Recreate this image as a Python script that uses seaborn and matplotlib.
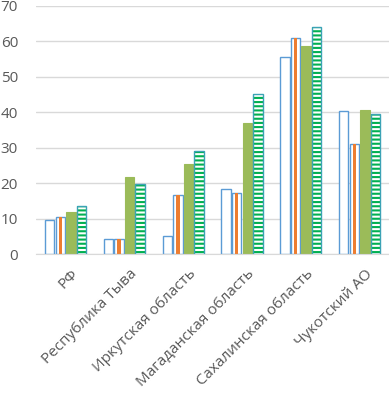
import numpy as np
import pandas as pd
import matplotlib
matplotlib.use("Agg")
import matplotlib.pyplot as plt
import matplotlib.transforms as mtransforms
import seaborn as sns
from matplotlib.patches import Rectangle

# données
regions = ["РФ", "Республика Тыва", "Иркутская область", "Магаданская область",
           "Сахалинская область", "Чукотский АО"]
series = ["s1", "s2", "s3", "s4"]
s1 = [9.6, 4.3, 5.0, 18.3, 55.5, 40.3]
s2 = [10.5, 4.4, 16.8, 17.3, 61.0, 31.0]
s3 = [11.9, 21.8, 25.5, 36.9, 58.6, 40.6]
s4 = [13.7, 19.8, 29.2, 45.1, 64.2, 39.5]

data = pd.DataFrame({
    "region": regions * 4,
    "serie": np.repeat(series, len(regions)),
    "value": s1 + s2 + s3 + s4,
})

sns.set_style("white")
plt.rcParams["font.family"] = ["Open Sans", "DejaVu Sans"]
plt.rcParams["hatch.linewidth"] = 1.5

blue = "#5B9BD5"
orange = "#ED7D31"
green = "#9BBB59"
stripe = "#00B050"

fig = plt.figure(figsize=(3.89, 3.99), dpi=100)
ax = fig.add_axes([0.093, 0.363, 0.907, 0.622])

sns.barplot(data=data, x="region", y="value", hue="serie", order=regions,
            hue_order=series, width=0.72, gap=0.1, palette=["white"] * 4,
            legend=False, ax=ax)

for i, cont in enumerate(ax.containers):
    for p in cont:
        if i == 0:
            p.set_facecolor("white")
            p.set_edgecolor(blue)
            p.set_linewidth(1.0)
        elif i == 1:
            p.set_facecolor("white")
            p.set_edgecolor(blue)
            p.set_linewidth(1.0)
            w = p.get_width()
            ax.add_patch(Rectangle((p.get_x() + w * 0.33, 0), w * 0.34, p.get_height(),
                                   facecolor=orange, edgecolor="none", zorder=p.get_zorder() + 0.1))
        elif i == 2:
            p.set_facecolor(green)
            p.set_edgecolor(green)
            p.set_linewidth(0.8)
        else:
            p.set_facecolor("white")
            p.set_edgecolor(stripe)
            p.set_hatch("----")
            p.set_linewidth(0)
            ax.add_patch(Rectangle((p.get_x(), 0), p.get_width(), p.get_height(),
                                   facecolor="none", edgecolor="#3BA3B5", linewidth=1.0,
                                   zorder=p.get_zorder() + 0.1))

ax.set_ylim(0, 70)
ax.set_yticks(range(0, 71, 10))
ax.set_xlim(-0.5, 5.5)
ax.grid(axis="y", color="#D9D9D9", linewidth=1.0)
ax.set_axisbelow(True)
sns.despine(ax=ax, left=True, top=True, right=True)
ax.spines["bottom"].set_color("#D9D9D9")
ax.tick_params(axis="both", length=0, labelsize=11, labelcolor="#595959")
ax.tick_params(axis="y", pad=13)
ax.tick_params(axis="x", pad=9)
ax.set_xlabel("")
ax.set_ylabel("")
shift = mtransforms.ScaledTranslation(5 / 100, 0, fig.dpi_scale_trans)
for lab in ax.get_xticklabels():
    lab.set_rotation(45)
    lab.set_ha("right")
    lab.set_rotation_mode("anchor")
    lab.set_transform(lab.get_transform() + shift)

fig.savefig("out.png", dpi=100)
